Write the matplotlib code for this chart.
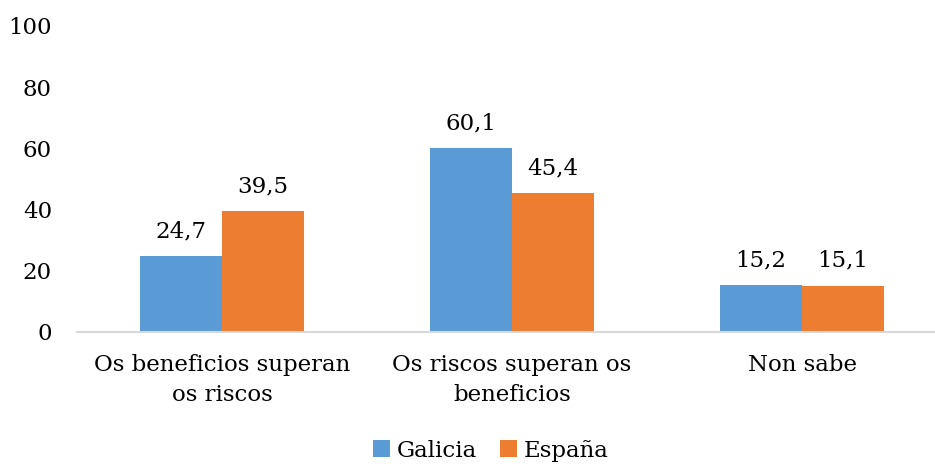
import matplotlib.pyplot as plt
import numpy as np

categories = ['Os beneficios superan\nos riscos', 'Os riscos superan os\nbeneficios', 'Non sabe']
galicia = [24.7, 60.1, 15.2]
espana = [39.5, 45.4, 15.1]
series_names = ['Galicia', 'España']

plt.rcParams['font.family'] = ['DejaVu Serif']
fs = 16.5

fig = plt.figure(figsize=(9.35, 4.66), dpi=100)
ax = fig.add_axes([77 / 935, 134 / 466, 870 / 935, 306 / 466])

x = np.arange(len(categories))
w = 0.283
b1 = ax.bar(x - w / 2, galicia, w, color='#5B9BD5', label=series_names[0])
b2 = ax.bar(x + w / 2, espana, w, color='#ED7D31', label=series_names[1])

for bars, vals in ((b1, galicia), (b2, espana)):
    for rect, v in zip(bars, vals):
        ax.annotate(f'{v:.1f}'.replace('.', ','),
                    (rect.get_x() + rect.get_width() / 2, v),
                    xytext=(0, 10), textcoords='offset points',
                    ha='center', va='bottom', fontsize=fs)

ax.set_xlim(-0.5, 2.5)
ax.set_ylim(0, 100)
ax.set_yticks(range(0, 101, 20))
ax.set_xticks(x)
ax.set_xticklabels(categories, fontsize=fs, linespacing=1.45)
ax.tick_params(axis='y', labelsize=fs, length=0, pad=18)
ax.tick_params(axis='x', length=0, pad=16)

for side in ('top', 'right', 'left'):
    ax.spines[side].set_visible(False)
ax.spines['bottom'].set_color('#D9D9D9')
ax.spines['bottom'].set_linewidth(1.5)

fig.legend(loc='lower center', bbox_to_anchor=(0.525, -0.035), ncol=2, frameon=False,
           fontsize=fs, handlelength=0.75, handleheight=0.75, handletextpad=0.3,
           columnspacing=1.0)

fig.savefig('out.png', dpi=100)
